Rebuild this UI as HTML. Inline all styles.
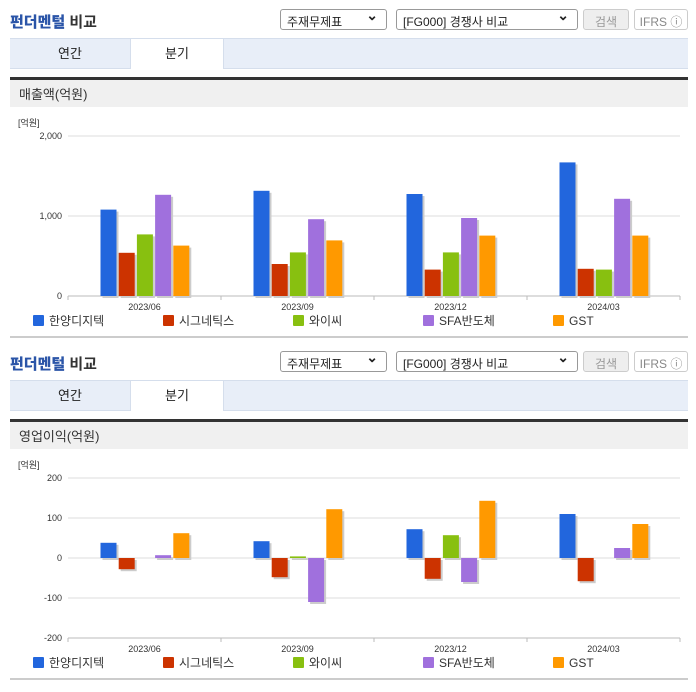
<!DOCTYPE html>
<html><head><meta charset="utf-8"><style>
body{margin:0;width:696px;height:684px;background:#fff;font-family:"Liberation Sans","Noto Sans CJK KR",sans-serif;position:relative;overflow:hidden}
.abs{position:absolute}
.title{font-size:15px;font-weight:bold;color:#333}
.title b{color:#2b55a8}
.sel{border:1px solid #999;border-radius:3px;height:21px;font-size:12px;color:#222;background:#fff;box-sizing:border-box;padding:3px 6px}
.sel:after{content:"⌄";position:absolute;right:8px;top:-3px;font-size:14px;font-weight:bold}
.btn{border:1px solid #ccc;border-radius:3px;height:21px;font-size:12px;color:#999;box-sizing:border-box;text-align:center;padding-top:3px}
.tabbar{left:10px;width:678px;height:29px;background:#e8eef8;border-top:1px solid #d5deec;border-bottom:1px solid #d5deec}
.tab{top:0;height:29px;font-size:13px;color:#222;text-align:center;line-height:29px}
.hdr{left:10px;width:678px;height:30px;background:#f0f0f0;border-top:3px solid #333;font-size:13px;color:#333;line-height:30px;box-sizing:border-box;padding-left:9px}
svg text{font-family:"Liberation Sans","Noto Sans CJK KR",sans-serif}
</style></head><body>
<div id="s1"></div>
<div id="s2"></div>
<script>
const categories=["2023/06","2023/09","2023/12","2024/03"];
const seriesNames=["한양디지텍","시그네틱스","와이씨","SFA반도체","GST"];
const colors=["#2266dd","#cc3300","#88c010","#a070dd","#ff9900"];
const salesHanyang=[1080,1315,1275,1670];
const salesSignetics=[540,400,330,340];
const salesYC=[770,545,545,330];
const salesSFA=[1265,960,975,1215];
const salesGST=[630,695,755,755];
const salesTicks=[0,1000,2000];
const salesTickLabels=["0","1,000","2,000"];
const opHanyang=[38,42,72,110];
const opSignetics=[-28,-48,-52,-58];
const opYC=[0,4,57,0];
const opSFA=[7,-110,-60,25];
const opGST=[62,122,143,85];
const opTicks=[-200,-100,0,100,200];
const opTickLabels=["-200","-100","0","100","200"];

function section(root,off,label,series,ticks,tickLabels,vmin,vmax,name){
  let h='';
  h+=`<div class="abs title" style="left:10px;top:${off+11}px"><b>펀더멘털</b> 비교</div>`;
  h+=`<div class="abs sel" style="left:280px;top:${off+9}px;width:107px">주재무제표</div>`;
  h+=`<div class="abs sel" style="left:396px;top:${off+9}px;width:182px">[FG000] 경쟁사 비교</div>`;
  h+=`<div class="abs btn" style="left:583px;top:${off+9}px;width:46px;background:#eee">검색</div>`;
  h+=`<div class="abs btn" style="left:634px;top:${off+9}px;width:54px;color:#888">IFRS ⓘ</div>`;
  h+=`<div class="abs tabbar" style="top:${off+38}px">
  <div class="abs tab" style="left:0;width:120px">연간</div>
  <div class="abs tab" style="left:120px;width:92px;background:#fff;border:1px solid #d5deec;border-bottom:none;top:-1px;height:30px">분기</div></div>`;
  h+=`<div class="abs hdr" style="top:${off+77}px">${label}</div>`;
  root.innerHTML=h;
  const NS="http://www.w3.org/2000/svg";
  const svg=document.createElementNS(NS,"svg");
  
  
  svg.setAttribute("width","696");svg.setAttribute("height","240");
  svg.style.position="absolute";svg.style.left="0";svg.style.top=(off+110)+"px";
  root.appendChild(svg);
  const x0=68,x1=680,yTop=26,yBot=186;
  const y=v=>yBot-(v-vmin)/(vmax-vmin)*(yBot-yTop);
  const bw=(x1-x0)/categories.length;
  function el(t,a,txt){const e=document.createElementNS(NS,t);for(const k in a)e.setAttribute(k,a[k]);if(txt!==undefined)e.textContent=txt;svg.appendChild(e);return e;}
  let u=el("text",{x:18,y:16,"font-size":9,fill:"#333"},"[억원]");
  
  ticks.forEach((t,i)=>{
    let g=el("line",{x1:x0,x2:x1,y1:y(t),y2:y(t),stroke:"#ddd"});
    
    let l=el("text",{x:62,y:y(t)+3,"font-size":9,fill:"#333","text-anchor":"end"},tickLabels[i]);
    
  });
  let ax=el("line",{x1:x0,x2:x1,y1:yBot,y2:yBot,stroke:"#bbb"});
  
  for(let i=0;i<=categories.length;i++){let tk=el("line",{x1:x0+i*bw,x2:x0+i*bw,y1:yBot,y2:yBot+4,stroke:"#bbb"});}
  const zero=y(Math.max(0,vmin));
  categories.forEach((c,ci)=>{
    const cx=x0+ci*bw+bw/2;
    let cl=el("text",{x:cx,y:yBot+14,"font-size":9,fill:"#333","text-anchor":"middle"},c);
    
    series.forEach((s,si)=>{
      const v=s[ci];const bx=cx-44+si*18.2;
      const top=Math.min(y(v),zero),hh=Math.abs(y(v)-zero);
      if(hh<0.5)return;
      let sh=el("rect",{x:bx+2,y:top+2,width:16,height:hh,fill:"#ccc"});
      
      let r=el("rect",{x:bx,y:top,width:16,height:hh,fill:colors[si]});
      
    });
  });
  seriesNames.forEach((n,i)=>{
    const lx=33+i*130;
    let sq=el("rect",{x:lx,y:yBot+19,width:11,height:11,fill:colors[i],rx:1});
    
    let t=el("text",{x:lx+16,y:yBot+29,"font-size":12,fill:"#333"},n);
    
  });
  let bl=el("rect",{x:10,y:yBot+40,width:678,height:2,fill:"#ccc"});
  
}
section(document.getElementById("s1"),0,"매출액(억원)",[salesHanyang,salesSignetics,salesYC,salesSFA,salesGST],salesTicks,salesTickLabels,0,2000,"sales-chart");
section(document.getElementById("s2"),342,"영업이익(억원)",[opHanyang,opSignetics,opYC,opSFA,opGST],opTicks,opTickLabels,-200,200,"operating-profit-chart");
</script>
</body></html>
